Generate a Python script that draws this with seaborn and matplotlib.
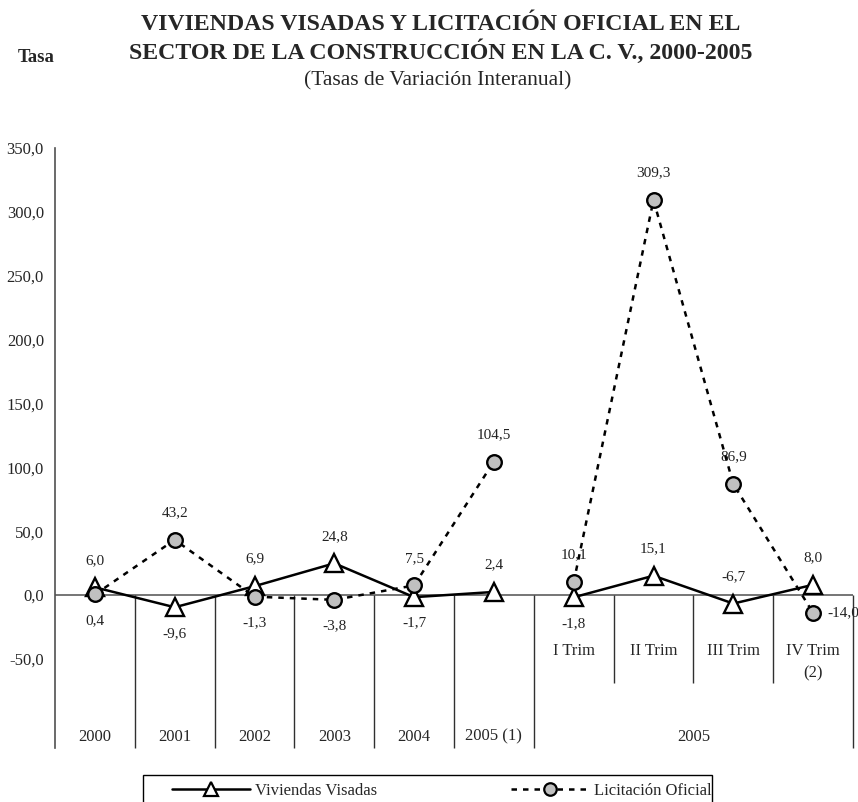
import matplotlib
matplotlib.use('Agg')
import matplotlib.pyplot as plt
from matplotlib.lines import Line2D
from matplotlib.patches import Rectangle
import seaborn as sns

# Datos (tasas de variación interanual)
periodos = ['2000', '2001', '2002', '2003', '2004', '2005 (1)',
            'I Trim', 'II Trim', 'III Trim', 'IV Trim\n(2)']
viviendas = [6.0, -9.6, 6.9, 24.8, -1.7, 2.4, -1.8, 15.1, -6.7, 8.0]
licitacion = [0.4, 43.2, -1.3, -3.8, 7.5, 104.5, 10.1, 309.3, 86.9, -14.0]
# posición de la etiqueta de cada dato: 'a' arriba, 'b' abajo, 'd' derecha
pos_viv = ['a', 'b', 'a', 'a', 'b', 'a', 'b', 'a', 'a', 'a']
pos_lic = ['b', 'a', 'b', 'b', 'a', 'a', 'a', 'a', 'a', 'd']

sns.set_style('white')
plt.rcParams['font.family'] = ['Liberation Serif', 'DejaVu Serif']

W, H = 858, 802
fig = plt.figure(figsize=(W / 100, H / 100), dpi=100)
ax = fig.add_axes([55 / W, 1 - 748 / H, 798 / W, 600 / H])

ymin = -119.8
x = list(range(len(periodos)))
tramos = [slice(0, 6), slice(6, 10)]  # anual / trimestral (sin unir)

for s in tramos:
    sns.lineplot(x=x[s], y=viviendas[s], ax=ax, color='black', linewidth=1.8,
                 marker='^', markersize=13.5, markerfacecolor='white',
                 markeredgecolor='black', markeredgewidth=1.7, zorder=3)
for s in tramos:
    sns.lineplot(x=x[s], y=licitacion[s], ax=ax, color='black', linewidth=1.8,
                 linestyle=(0, (2.2, 2.4)), marker='o', markersize=10.5,
                 markerfacecolor='#c0c0c0', markeredgecolor='black',
                 markeredgewidth=1.7, zorder=4)


def fmt(v):
    return f'{v:.1f}'.replace('.', ',')


offs = {'a': (0, 27), 'b': (0, -26), 'd': (30, 0)}
for serie, posic in [(viviendas, pos_viv), (licitacion, pos_lic)]:
    for i, (v, p) in enumerate(zip(serie, posic)):
        ax.annotate(fmt(v), (i, v), xytext=offs[p], textcoords='offset pixels',
                    ha='center', va='center', fontsize=11, color='#222222',
                    zorder=6)

ax.set_xlim(-0.5, 9.5)
ax.set_ylim(ymin, 350)
ax.set_yticks(range(-50, 351, 50))
ax.set_yticklabels([fmt(t) for t in range(-50, 351, 50)], fontsize=12)
ax.set_xticks([])
for side in ['top', 'right', 'bottom']:
    ax.spines[side].set_visible(False)
ax.spines['left'].set_color('#505050')
ax.spines['left'].set_linewidth(1.2)
ax.tick_params(axis='y', direction='out', length=5, width=1, color='#505050', pad=3)

# eje de categorías estilo tabla
ax.axhline(0, color='#505050', linewidth=1.1, zorder=2)
ax.vlines([0.5, 1.5, 2.5, 3.5, 4.5, 5.5, 9.5], ymin, 0, color='#303030',
          linewidth=1, clip_on=False)
ax.vlines([6.5, 7.5, 8.5], -68.9, 0, color='#303030', linewidth=1)
for i, lab in enumerate(periodos):
    if i < 6:
        ax.text(i, -111, lab, ha='center', va='center', fontsize=12)
    else:
        ax.text(i, -37.5, lab, ha='center', va='top', fontsize=12, linespacing=1.5)
ax.text(7.5, -111, '2005', ha='center', va='center', fontsize=12)

# títulos
fig.text(441 / W, 1 - 25 / H, 'VIVIENDAS VISADAS Y LICITACIÓN OFICIAL EN EL',
         ha='center', va='center', fontsize=17.2, fontweight='bold')
fig.text(441 / W, 1 - 52 / H, 'SECTOR DE LA CONSTRUCCIÓN EN LA C. V., 2000-2005',
         ha='center', va='center', fontsize=17.2, fontweight='bold')
fig.text(438 / W, 1 - 81 / H, '(Tasas de Variación Interanual)',
         ha='center', va='center', fontsize=15.5)
fig.text(36 / W, 1 - 58 / H, 'Tasa', ha='center', va='center', fontsize=13.5,
         fontweight='bold')

# leyenda
handles = [
    Line2D([], [], color='black', linewidth=1.8, marker='^', markersize=10,
           markerfacecolor='white', markeredgecolor='black', markeredgewidth=1.6),
    Line2D([], [], color='black', linewidth=1.8, linestyle=(0, (2.2, 2.4)),
           marker='o', markersize=9, markerfacecolor='#c0c0c0',
           markeredgecolor='black', markeredgewidth=1.6),
]
fig.legend(handles, ['Viviendas Visadas', 'Licitación Oficial'], ncol=2,
           loc='center left', bbox_to_anchor=(172 / W, 1 - 791 / H),
           frameon=False, fontsize=12, handlelength=4.7, handletextpad=0.3,
           columnspacing=8.0, borderpad=0, borderaxespad=0)
fig.patches.append(Rectangle((143 / W, -0.01), 569 / W, (H - 775) / H + 0.01,
                             transform=fig.transFigure, fill=False,
                             edgecolor='black', linewidth=1))

fig.savefig('out.png', dpi=100)
